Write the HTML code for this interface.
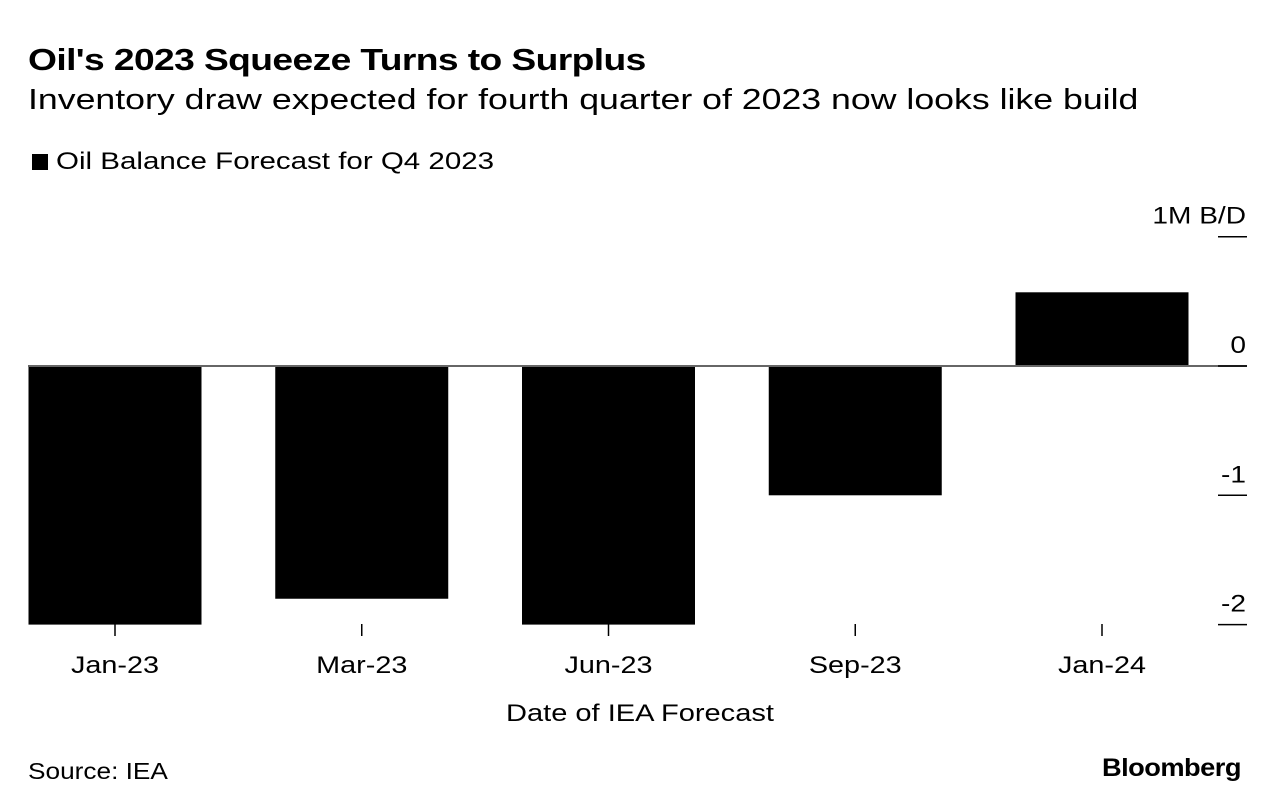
<!DOCTYPE html>
<html><head><meta charset="utf-8"><style>
body{margin:0;background:#fff;font-family:"Liberation Sans",Arial,sans-serif;}
#wrap{position:relative;width:1280px;height:810px;overflow:hidden;}
.t{position:absolute;white-space:nowrap;color:#000;transform-origin:0 0;}
</style></head><body>
<div id="wrap">
<div class="t" style="left:28px;top:42px;font-size:31px;font-weight:bold;letter-spacing:-0.5px;transform:scaleX(1.2)">Oil's 2023 Squeeze Turns to Surplus</div>
<div class="t" style="left:28px;top:84px;font-size:29px;transform:scaleX(1.23)">Inventory draw expected for fourth quarter of 2023 now looks like build</div>
<div class="t" style="left:32px;top:148px;font-size:24px"><span style="display:inline-block;width:16px;height:16px;background:#000;margin-right:8px;vertical-align:-1px"></span><span style="display:inline-block;transform:scaleX(1.23);transform-origin:0 0">Oil Balance Forecast for Q4 2023</span></div>
<svg id="chart" width="1280" height="810" style="position:absolute;left:0;top:0"></svg>
<div class="t" style="left:506px;top:700px;font-size:24px;transform:scaleX(1.21)">Date of IEA Forecast</div>
<div class="t" style="left:28px;top:758px;font-size:23px;transform:scaleX(1.14)">Source: IEA</div>
<div class="t" style="left:1102px;top:754px;font-size:25px;font-weight:bold;letter-spacing:-0.5px;transform:scaleX(1.09)">Bloomberg</div>
</div>
<script>
const categories=["Jan-23","Mar-23","Jun-23","Sep-23","Jan-24"];
const values=[-2.0,-1.8,-2.0,-1.0,0.57];
const yTicks=[1,0,-1,-2];
const yTickLabels=["1M B/D","0","-1","-2"];
const NS="http://www.w3.org/2000/svg";
const svg=document.getElementById('chart');
const y=v=>366-v*129.3;
const x=i=>115+i*246.75;
const bw=173;
function mk(t,a){const e=document.createElementNS(NS,t);for(const k in a)e.setAttribute(k,a[k]);svg.appendChild(e);return e;}
values.forEach((v,i)=>{
 const r=mk('rect',{x:x(i)-bw/2,y:Math.min(y(v),y(0)),width:bw,height:Math.abs(y(v)-y(0)),fill:'#000'});
 
 
});
const zl=mk('line',{x1:28,x2:1247,y1:y(0),y2:y(0),stroke:'#666','stroke-width':2});


yTicks.forEach((v,i)=>{
 const l=mk('line',{x1:1218,x2:1247,y1:y(v),y2:y(v),stroke:'#000','stroke-width':1.5});
 
 
 const t=mk('text',{transform:'translate(1246,'+(y(v)-13)+') scale(1.17,1)','text-anchor':'end','font-size':24,'font-family':'Liberation Sans, Arial, sans-serif'});
 t.textContent=yTickLabels[i];
 
 
});
categories.forEach((c,i)=>{
 const l=mk('line',{x1:x(i),x2:x(i),y1:624,y2:636,stroke:'#000','stroke-width':1.5});
 
 
 const t=mk('text',{transform:'translate('+x(i)+',673) scale(1.2,1)','text-anchor':'middle','font-size':24,'font-family':'Liberation Sans, Arial, sans-serif'});
 t.textContent=c;
 
 
});
</script>
</body></html>
